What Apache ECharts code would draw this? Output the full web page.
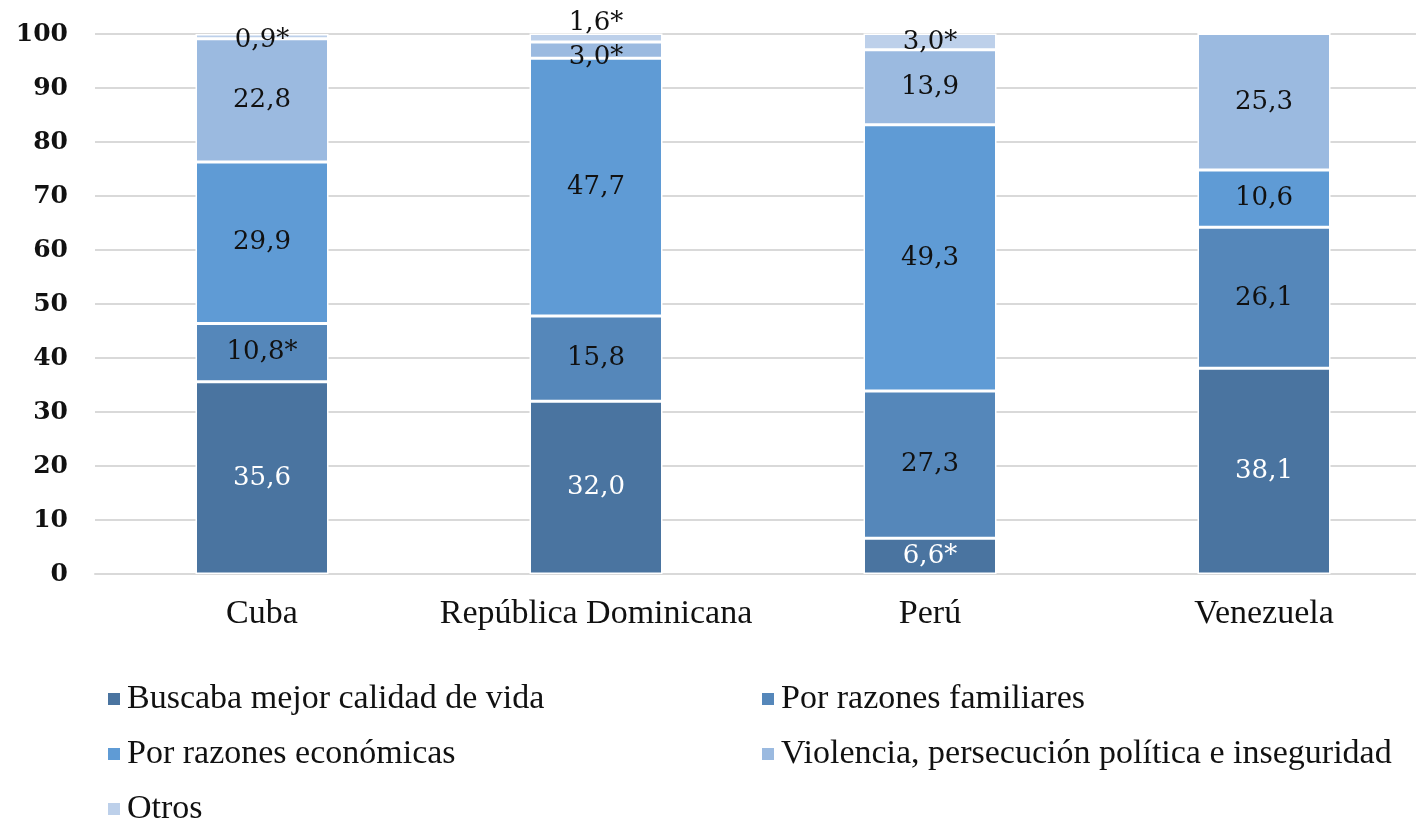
<!DOCTYPE html>
<html style="height: 100%">
<head>
    <meta charset="utf-8">
</head>
<body style="height: 100%; margin: 0; background: #fff; overflow: hidden">
<div id="container" style="width: 1431px; height: 821px"></div>
<script type="text/javascript" src="https://cdn.jsdelivr.net/npm/echarts@6/dist/echarts.min.js"></script>
<script type="text/javascript">
    // datos
    var paises = ['Cuba', 'República Dominicana', 'Perú', 'Venezuela'];
    var nombres = ['Buscaba mejor calidad de vida', 'Por razones familiares', 'Por razones económicas',
        'Violencia, persecución política e inseguridad', 'Otros'];
    var calidadVida = [35.6, 32.0, 6.6, 38.1];
    var familiares = [10.8, 15.8, 27.3, 26.1];
    var economicas = [29.9, 47.7, 49.3, 10.6];
    var violencia = [22.8, 3.0, 13.9, 25.3];
    var otros = [0.9, 1.6, 3.0, 0];
    // valores marcados con asterisco (*)
    var asterisco = [
        [false, false, true, false],
        [true, false, false, false],
        [false, false, false, false],
        [false, true, false, false],
        [true, true, true, false]
    ];
    var yTicks = [0, 10, 20, 30, 40, 50, 60, 70, 80, 90, 100];

    var colores = ['#4a74a0', '#5587ba', '#5f9bd5', '#9bbae0', '#bdd0ea'];
    var serif = '"Liberation Serif", serif';
    var numeros = '"DejaVu Serif", serif';

    // el contenedor es algo más ancho que la ventana: la última columna queda cortada como en el original
    var dom = document.getElementById("container");
    var myChart = echarts.init(dom);

    var valores = [calidadVida, familiares, economicas, violencia, otros];

    var series = valores.map(function (vals, s) {
        return {
            name: nombres[s],
            type: 'bar',
            stack: 'total',
            barWidth: 133,
            clip: false,
            itemStyle: {color: colores[s], borderColor: '#fff', borderWidth: 1.5},
            label: {
                show: true,
                position: 'inside',
                fontFamily: numeros,
                fontSize: 26,
                color: s === 0 ? '#fff' : '#111',
                formatter: function (p) {
                    if (!p.value) return '';
                    return p.value.toFixed(1).replace('.', ',') + (asterisco[s][p.dataIndex] ? '*' : '');
                }
            },
            data: vals.map(function (v, i) {
                var item = {value: v};
                // ajustes de etiquetas pequeñas
                if (s === 4 && i === 1) item.label = {offset: [0, -15]};
                if (s === 3 && i === 1) item.label = {offset: [0, 7]};
                if (s === 4 && i === 0) item.label = {offset: [0, 4]};
                if (s === 4 && i === 2) item.label = {offset: [0, 1]};
                return item;
            })
        };
    });

    var leyenda = {
        orient: 'vertical',
        top: 677,
        height: 200,
        itemWidth: 14,
        itemHeight: 14,
        itemGap: 21,
        icon: 'rect',
        textStyle: {fontFamily: serif, fontSize: 34, color: '#111', lineHeight: 34, padding: [0, 0, 0, 1]}
    };

    var option = {
        backgroundColor: '#fff',
        animation: false,
        grid: {left: 95, top: 34, right: 0, height: 540, containLabel: false},
        legend: [
            Object.assign({left: 101, data: [nombres[0], nombres[2], nombres[4]]}, leyenda),
            Object.assign({left: 755, data: [nombres[1], nombres[3]]}, leyenda)
        ],
        xAxis: {
            type: 'category',
            data: paises,
            axisTick: {show: false},
            axisLine: {lineStyle: {color: '#d9d9d9', width: 2}},
            axisLabel: {interval: 0, fontFamily: serif, fontSize: 34, color: '#111', margin: 23}
        },
        yAxis: {
            type: 'value',
            min: yTicks[0],
            max: yTicks[yTicks.length - 1],
            interval: 10,
            axisLine: {show: false},
            axisTick: {show: false},
            splitLine: {lineStyle: {color: '#d9d9d9', width: 2}},
            axisLabel: {fontFamily: numeros, fontSize: 25, fontWeight: 'bold', color: '#111', margin: 27}
        },
        series: series
    };

    myChart.setOption(option);
</script>
</body>
</html>
